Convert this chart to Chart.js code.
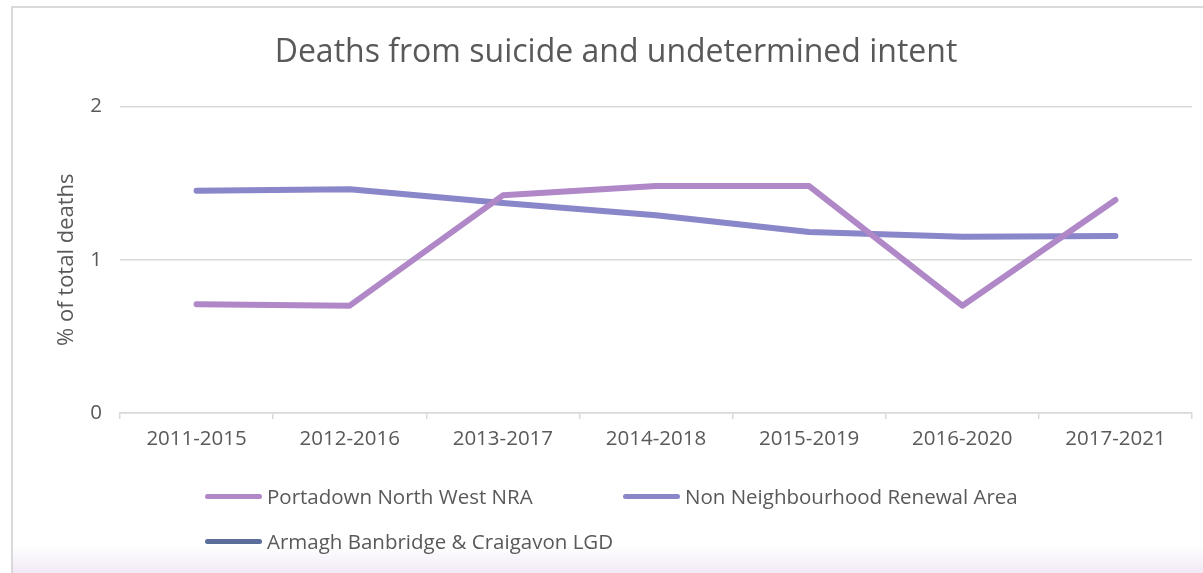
<!DOCTYPE html>
<html>
<head>
<meta charset="utf-8">
<script src="https://cdn.jsdelivr.net/npm/chart.js@4/dist/chart.umd.min.js"></script>
<style>
  html, body { margin: 0; padding: 0; background: #fff; }
  #wrap { position: relative; width: 1203px; height: 573px; overflow: hidden; }
  #frame {
    position: absolute; left: 11px; top: 6px; right: -2px; bottom: 0;
    border-left: 2px solid #d9d9d9; border-top: 2px solid #d9d9d9;
    background: linear-gradient(to bottom, #fff 0%, #fff 95%, #f1e9f7 100%);
  }
  #chart { position: absolute; left: 0; top: 0; }
  #legend {
    position: absolute; left: 205px; top: 482px; width: 900px;
    font-family: "Open Sans", sans-serif; font-size: 20.5px; color: #595959;
    display: grid; grid-template-columns: 418px 418px; row-gap: 17px;
  }
  .item { display: flex; align-items: center; height: 28px; }
  .swatch { width: 57px; height: 5px; border-radius: 3px; margin-right: 5px; }
</style>
</head>
<body>
<div id="wrap">
  <div id="frame"></div>
  <canvas id="chart" width="1203" height="573"></canvas>
  <div id="legend"></div>
</div>
<script>
const categories = ['2011-2015', '2012-2016', '2013-2017', '2014-2018', '2015-2019', '2016-2020', '2017-2021'];
const portadown = [0.71, 0.70, 1.42, 1.48, 1.48, 0.70, 1.39];
const nonNra = [1.45, 1.46, 1.37, 1.29, 1.18, 1.15, 1.155];
const armagh = [null, null, null, null, null, null, null];
const yTicks = [0, 1, 2];

const grey = '#595959';
const font = "'Open Sans', sans-serif";

const datasets = [
  { label: 'Portadown North West NRA', data: portadown, borderColor: '#b088c8' },
  { label: 'Non Neighbourhood Renewal Area', data: nonNra, borderColor: '#8986c9' },
  { label: 'Armagh Banbridge & Craigavon LGD', data: armagh, borderColor: '#5b6e99' }
].map(d => Object.assign(d, {
  borderWidth: 6,
  pointRadius: 0,
  borderCapStyle: 'round',
  borderJoinStyle: 'round',
  fill: false,
  tension: 0
}));

const ctx = document.getElementById('chart').getContext('2d');
const chart = new Chart(ctx, {
  type: 'line',
  data: { labels: categories, datasets: datasets },
  options: {
    responsive: false,
    animation: false,
    layout: { padding: { left: 40, right: 11, top: 34, bottom: 110 } },
    plugins: {
      legend: { display: false },
      tooltip: { enabled: false },
      title: {
        display: true,
        text: 'Deaths from suicide and undetermined intent',
        color: grey,
        font: { family: font, size: 32, weight: 'normal' },
        padding: { top: 0, bottom: 34 }
      }
    },
    scales: {
      x: {
        offset: true,
        grid: {
          offset: true,
          drawOnChartArea: false,
          drawTicks: true,
          tickLength: 6,
          color: '#d9d9d9',
          lineWidth: 1.5
        },
        border: { display: true, color: '#d9d9d9', width: 1.5 },
        ticks: { color: grey, font: { family: font, size: 20.5 }, padding: 8, maxRotation: 0 },
        afterFit: s => { s.height = 50; }
      },
      y: {
        min: 0,
        max: 2,
        afterBuildTicks: s => { s.ticks = yTicks.map(v => ({ value: v })); },
        grid: { color: '#d9d9d9', lineWidth: 1.5, drawTicks: false },
        border: { display: false },
        ticks: { color: grey, font: { family: font, size: 20.5 }, padding: 18 },
        title: {
          display: true,
          text: '% of total deaths',
          color: grey,
          font: { family: font, size: 22 },
          padding: { top: 14, bottom: 0 }
        },
        afterFit: s => { s.width = 80; }
      }
    }
  }
});

const legend = document.getElementById('legend');
chart.data.datasets.forEach(d => {
  const item = document.createElement('div');
  item.className = 'item';
  const sw = document.createElement('span');
  sw.className = 'swatch';
  sw.style.background = d.borderColor;
  const tx = document.createElement('span');
  tx.textContent = d.label;
  item.appendChild(sw);
  item.appendChild(tx);
  legend.appendChild(item);
});
</script>
</body>
</html>
